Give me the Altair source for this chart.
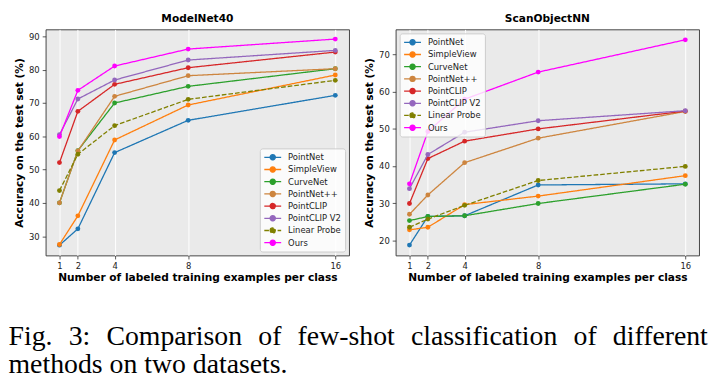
import altair as alt
import pandas as pd

shots = [1, 2, 4, 8, 16]
methods = ["PointNet", "SimpleView", "CurveNet", "PointNet++",
           "PointCLIP", "PointCLIP V2", "Linear Probe", "Ours"]
colors = ["#1f77b4", "#ff7f0e", "#2ca02c", "#cd853f",
          "#d62728", "#9467bd", "#808000", "#ff00ff"]
dashes = [[1, 0], [1, 0], [1, 0], [1, 0], [1, 0], [1, 0], [4.7, 2], [1, 0]]

# ModelNet40
mn_pointnet = [27.3, 32.2, 55.1, 64.8, 72.3]
mn_simpleview = [27.5, 36.1, 58.9, 69.4, 78.4]
mn_curvenet = [40.0, 55.7, 70.0, 75.0, 80.3]
mn_pointnetpp = [40.0, 55.6, 72.0, 78.2, 80.3]
mn_pointclip = [52.1, 67.5, 75.6, 80.6, 85.3]
mn_pointclipv2 = [60.5, 71.2, 76.9, 82.9, 85.8]
mn_linear = [43.7, 54.6, 63.2, 71.1, 76.8]
mn_ours = [59.9, 73.8, 81.1, 86.2, 89.2]

# ScanObjectNN
so_pointnet = [18.7, 26.4, 26.6, 34.9, 35.2]
so_simpleview = [22.8, 23.5, 29.6, 31.9, 37.4]
so_curvenet = [25.3, 26.4, 26.6, 29.9, 35.1]
so_pointnetpp = [27.0, 32.2, 40.9, 47.5, 54.7]
so_pointclip = [29.9, 42.0, 46.7, 50.0, 54.8]
so_pointclipv2 = [33.9, 43.1, 49.1, 52.2, 54.9]
so_linear = [23.5, 25.7, 29.4, 36.1, 39.9]
so_ours = [35.2, 49.3, 58.0, 65.3, 74.0]

mn_ticks = [30, 40, 50, 60, 70, 80, 90]
so_ticks = [20, 30, 40, 50, 60, 70]

# first caption line is justified: wider word gaps
caption_line1 = ["Fig.", "3:", "Comparison", "of", "few-shot",
                 "classification", "of", "different"]
caption_line2 = "methods on two datasets."
caption = [" \u00a0\u200a".join(caption_line1), caption_line2]

# legend symbol: short line with a dot in the middle
LEG_PATH = ("M-1,0L2.78,0M0.31,0A0.58,0.58 0 1,1 1.47,0"
            "A0.58,0.58 0 1,1 0.31,0Z")


def panel(series, title, ydom, yticks, orient):
    rows = []
    for m, vals in zip(methods, series):
        for s, v in zip(shots, vals):
            rows.append({"method": m, "shots": s, "acc": v})
    df = pd.DataFrame(rows)
    x = alt.X("shots:Q",
              scale=alt.Scale(domain=[0.25, 16.75], nice=False, zero=False),
              axis=alt.Axis(values=shots, grid=True, titlePadding=2,
                            title="Number of labeled training examples per class"))
    y = alt.Y("acc:Q",
              scale=alt.Scale(domain=ydom, nice=False, zero=False),
              axis=alt.Axis(values=yticks, grid=False, titlePadding=4,
                            title="Accuracy on the test set (%)"))
    legend = alt.Legend(
        title=None, orient=orient, offset=4,
        symbolType=LEG_PATH, symbolSize=81, symbolStrokeWidth=1.3,
        labelOffset=14, rowPadding=1.3, padding=3.5,
        labelFont="DejaVu Sans", labelFontSize=8.5, labelColor="#222",
        fillColor="rgba(255,255,255,0.8)", strokeColor="#cccccc",
        cornerRadius=2.5, symbolOpacity=1,
    )
    color = alt.Color("method:N",
                      scale=alt.Scale(domain=methods, range=colors),
                      legend=legend)
    dash = alt.StrokeDash("method:N",
                          scale=alt.Scale(domain=methods, range=dashes),
                          legend=legend)
    layers = []
    for m in methods:
        base = alt.Chart(df).transform_filter(alt.datum.method == m)
        ln = base.mark_line(strokeWidth=1.3)
        pt = base.mark_point(filled=True, size=24, opacity=1)
        layers.append(ln.encode(x=x, y=y, color=color, strokeDash=dash))
        layers.append(pt.encode(x=x, y=y, color=color))
    return alt.layer(*layers).properties(
        width=306, height=228,
        title=alt.TitleParams(title, anchor="middle"))


left = panel([mn_pointnet, mn_simpleview, mn_curvenet, mn_pointnetpp,
              mn_pointclip, mn_pointclipv2, mn_linear, mn_ours],
             "ModelNet40", [24.2, 92.1], mn_ticks, "bottom-right")
right = panel([so_pointnet, so_simpleview, so_curvenet, so_pointnetpp,
               so_pointclip, so_pointclipv2, so_linear, so_ours],
              "ScanObjectNN", [15.9, 76.8], so_ticks, "top-left")

chart = alt.hconcat(left, right, spacing=13).resolve_scale(
    color="shared", strokeDash="shared").resolve_legend(
    color="independent", strokeDash="independent").properties(
    padding={"left": 0, "top": 2, "right": 0, "bottom": 0},
    title=alt.TitleParams(caption, orient="bottom", anchor="start",
                          font="Liberation Serif", fontSize=28,
                          fontWeight="normal", color="black",
                          lineHeight=28, offset=41, dx=-4.7),
).configure_view(
    fill="#eaeaea", stroke="#333333", strokeWidth=0.9
).configure_axis(
    domain=False, tickColor="#333333", tickSize=3.5, tickWidth=0.8,
    labelFont="DejaVu Sans", labelFontSize=8.5, labelColor="#222222",
    labelPadding=3, titleFont="DejaVu Sans", titleFontSize=10.7,
    titleFontWeight="bold", titleColor="black",
    gridColor="white", gridWidth=1, gridOpacity=1
).configure_title(
    font="DejaVu Sans", fontSize=10.7, fontWeight="bold", color="black",
    offset=5
)

chart.save("out.html", embed_options={"renderer": "svg", "actions": False})
